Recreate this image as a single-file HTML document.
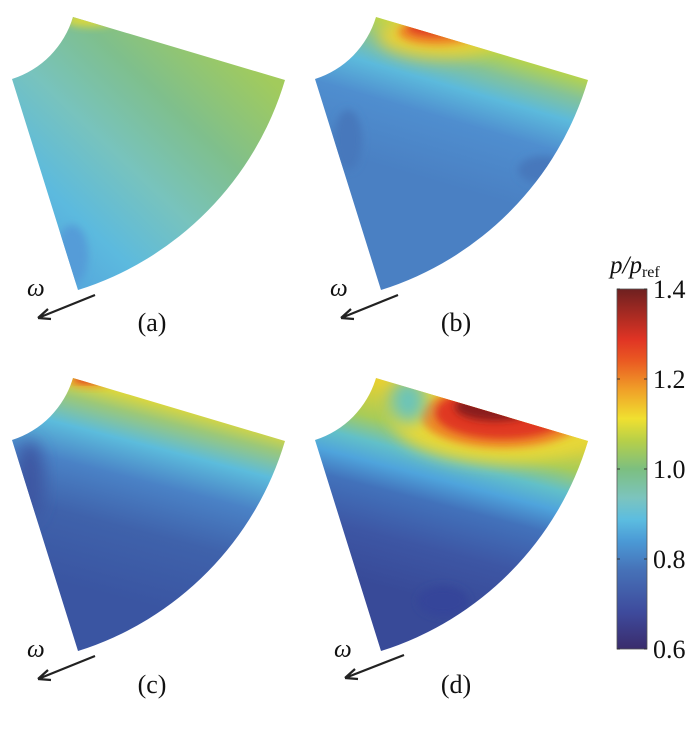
<!DOCTYPE html>
<html><head><meta charset="utf-8"><style>
body{margin:0;background:#fff;width:700px;height:724px;overflow:hidden}
svg text{font-family:"Liberation Serif",serif;fill:#111}
</style></head><body>
<svg id="fig" width="700" height="724" viewBox="0 0 700 724" xmlns="http://www.w3.org/2000/svg">
<defs>
<filter id="blur8" x="-50%" y="-50%" width="200%" height="200%"><feGaussianBlur stdDeviation="8"/></filter>
<filter id="blur4" x="-50%" y="-50%" width="200%" height="200%"><feGaussianBlur stdDeviation="4"/></filter>
<clipPath id="sector"><path d="M73,17 A93,93 0 0 1 12,79 L78,290 A314,314 0 0 0 285,80 Z"/></clipPath>
<linearGradient id="ga" gradientUnits="userSpaceOnUse" x1="50" y1="270" x2="250" y2="60">
<stop offset="0" stop-color="#55a6dc"/><stop offset="0.2" stop-color="#5cbade"/><stop offset="0.45" stop-color="#78c3bd"/><stop offset="0.7" stop-color="#7fbf8c"/><stop offset="1" stop-color="#a2cb5c"/></linearGradient>
<linearGradient id="gb" gradientUnits="userSpaceOnUse" x1="180" y1="48" x2="140" y2="185">
<stop offset="0" stop-color="#b8d448"/><stop offset="0.15" stop-color="#84c398"/><stop offset="0.32" stop-color="#5cbadc"/><stop offset="0.55" stop-color="#4f8ecf"/><stop offset="1" stop-color="#4a80c3"/></linearGradient>
<linearGradient id="gc" gradientUnits="userSpaceOnUse" x1="180" y1="48" x2="130" y2="240">
<stop offset="0" stop-color="#d8d640"/><stop offset="0.08" stop-color="#9cc878"/><stop offset="0.22" stop-color="#5cbcdc"/><stop offset="0.4" stop-color="#4a82c6"/><stop offset="0.65" stop-color="#3f62ab"/><stop offset="1" stop-color="#3a55a2"/></linearGradient>
<linearGradient id="gd" gradientUnits="userSpaceOnUse" x1="180" y1="48" x2="130" y2="240">
<stop offset="0" stop-color="#e8d030"/><stop offset="0.18" stop-color="#a8cc58"/><stop offset="0.3" stop-color="#62c0c8"/><stop offset="0.4" stop-color="#4fa4dc"/><stop offset="0.52" stop-color="#4272bb"/><stop offset="0.75" stop-color="#3d56a4"/><stop offset="1" stop-color="#384a98"/></linearGradient>
<linearGradient id="cmap" x1="0" y1="1" x2="0" y2="0">
<stop offset="0" stop-color="#3a2c6c"/><stop offset="0.1" stop-color="#3e4a9c"/><stop offset="0.22" stop-color="#4672b8"/><stop offset="0.3" stop-color="#4b9ad6"/><stop offset="0.36" stop-color="#5cbde0"/><stop offset="0.42" stop-color="#7cc4be"/><stop offset="0.5" stop-color="#7cbf80"/><stop offset="0.58" stop-color="#b8d048"/><stop offset="0.64" stop-color="#f0e030"/><stop offset="0.72" stop-color="#f0a028"/><stop offset="0.8" stop-color="#ea5a22"/><stop offset="0.86" stop-color="#e03424"/><stop offset="1" stop-color="#6e2020"/></linearGradient>
</defs>

<g id="panel-a" transform="translate(0,0)">
<g clip-path="url(#sector)">
<rect x="0" y="0" width="300" height="300" fill="url(#ga)"/>
<ellipse cx="72" cy="255" rx="16" ry="30" fill="#549cd8" filter="url(#blur4)"/>
<ellipse cx="90" cy="20" rx="25" ry="7" fill="#d8d840" filter="url(#blur4)"/>
</g></g>

<g id="panel-b" transform="translate(303,0)">
<g clip-path="url(#sector)">
<rect x="0" y="0" width="300" height="300" fill="url(#gb)"/>
<ellipse cx="45" cy="140" rx="14" ry="30" fill="#4678bc" filter="url(#blur4)"/>
<ellipse cx="240" cy="170" rx="25" ry="14" fill="#4678bc" filter="url(#blur4)"/>
<ellipse cx="135" cy="36" rx="60" ry="22" fill="#e8d038" filter="url(#blur8)"/>
<ellipse cx="135" cy="32" rx="40" ry="13" fill="#ee8a26" filter="url(#blur4)"/>
<ellipse cx="132" cy="28" rx="28" ry="8" fill="#e03a22" filter="url(#blur4)"/>
</g></g>

<g id="panel-c" transform="translate(0,361)">
<g clip-path="url(#sector)">
<rect x="0" y="0" width="300" height="300" fill="url(#gc)"/>
<ellipse cx="30" cy="120" rx="14" ry="40" fill="#3c56a2" filter="url(#blur8)"/>
<ellipse cx="90" cy="20" rx="22" ry="6" fill="#f09028" filter="url(#blur4)"/>
<ellipse cx="88" cy="17" rx="14" ry="4" fill="#d83020" filter="url(#blur4)"/>
</g></g>

<g id="panel-d" transform="translate(303,361)">
<g clip-path="url(#sector)">
<rect x="0" y="0" width="300" height="300" fill="url(#gd)"/>
<ellipse cx="200" cy="58" rx="110" ry="44" fill="#e8d838" filter="url(#blur8)"/>
<ellipse cx="200" cy="55" rx="82" ry="32" fill="#ee8a26" filter="url(#blur4)"/>
<ellipse cx="200" cy="52" rx="68" ry="26" fill="#e03822" filter="url(#blur4)"/>
<ellipse cx="192" cy="46" rx="40" ry="14" fill="#8a1c1c" filter="url(#blur4)"/>
<ellipse cx="105" cy="40" rx="18" ry="22" fill="#6cc4b8" filter="url(#blur8)"/>
<ellipse cx="140" cy="240" rx="25" ry="15" fill="#34449a" filter="url(#blur4)"/>
</g></g>

<g stroke="#222" stroke-width="2.2" fill="none">
<path d="M95,295 L38,318 M38,318 l10,-9 M38,318 l13,1"/>
<path d="M398,295 L341,318 M341,318 l10,-9 M341,318 l13,1"/>
<path d="M95,656 L38,679 M38,679 l10,-9 M38,679 l13,1"/>
<path d="M404,655 L345,678 M345,678 l10,-9 M345,678 l13,1"/>
</g>
<text x="27" y="296" font-size="25" font-style="italic">ω</text>
<text x="330" y="296" font-size="25" font-style="italic">ω</text>
<text x="27" y="657" font-size="25" font-style="italic">ω</text>
<text x="334" y="657" font-size="25" font-style="italic">ω</text>
<text x="152" y="331" font-size="26" text-anchor="middle">(a)</text>
<text x="456" y="331" font-size="26" text-anchor="middle">(b)</text>
<text x="152" y="693" font-size="26" text-anchor="middle">(c)</text>
<text x="456" y="693" font-size="26" text-anchor="middle">(d)</text>

<g id="colorbar">
<rect x="617" y="289" width="30" height="360" fill="url(#cmap)" stroke="#555" stroke-width="0.8"/>
<text x="610" y="273" font-size="25" font-style="italic">p/p<tspan font-size="16" font-style="normal" dy="4">ref</tspan></text>
<g id="cb-ticks"></g>
</g>
</svg>
<script>
const tickValues = [0.6, 0.8, 1.0, 1.2, 1.4];
const tickLabels = ["0.6", "0.8", "1.0", "1.2", "1.4"];
const vmin = 0.6, vmax = 1.4;
function yScale(v){ return 649 - (v - vmin) / (vmax - vmin) * 360; }
const g = document.getElementById('cb-ticks');
const NS = 'http://www.w3.org/2000/svg';
tickValues.forEach((v, i) => {
  const y = yScale(v);
  const t = document.createElementNS(NS, 'text');
  
  
  t.setAttribute('x', 653); t.setAttribute('y', y + 9);
  t.setAttribute('font-size', '26');
  t.textContent = tickLabels[i];
  g.appendChild(t);
  const l = document.createElementNS(NS, 'path');
  
  
  l.setAttribute('d', `M617,${y} h3 M647,${y} h-3`);
  l.setAttribute('stroke', '#333');
  g.appendChild(l);
});
</script>
</body></html>
